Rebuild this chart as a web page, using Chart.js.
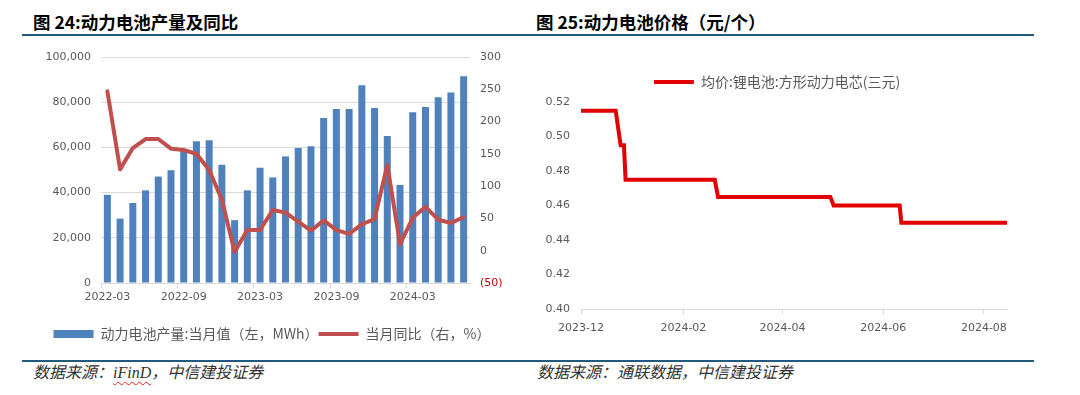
<!DOCTYPE html>
<html>
<head>
<meta charset="utf-8">
<script src="https://cdn.jsdelivr.net/npm/chart.js@4.4.1/dist/chart.umd.min.js"></script>
<style>
  body { margin: 0; width: 1080px; height: 395px; background: #fff; position: relative; overflow: hidden; }
  .title { position: absolute; top: 12px; font: bold 17.5px "Noto Sans CJK SC", sans-serif; line-height: 20px; color: #000; white-space: nowrap; }
  .rule { position: absolute; left: 22px; width: 1012px; background: #22597f; }
  .source { position: absolute; top: 363px; font: italic 16px "Liberation Serif", "Noto Sans CJK SC", serif; line-height: 20px; color: #333; white-space: nowrap; }
  .typo { text-decoration: underline wavy #e02020; text-decoration-thickness: 1px; text-underline-offset: 3px; }
  canvas { position: absolute; }
</style>
</head>
<body>
<div class="title" style="left:33px">图 24:动力电池产量及同比</div>
<div class="title" style="left:536px">图 25:动力电池价格（元/个）</div>
<div class="rule" style="top:34px;height:2px"></div>
<div class="rule" style="top:360px;height:2px"></div>
<div class="source" style="left:33px">数据来源：<span class="typo">iFinD</span>，中信建投证券</div>
<div class="source" style="left:537px">数据来源：通联数据，中信建投证券</div>

<div style="position:absolute;left:27px;top:40px;width:490px;height:311px"><canvas id="chart-output"></canvas></div>
<div style="position:absolute;left:520px;top:45px;width:514px;height:300px"><canvas id="chart-price"></canvas></div>

<script>
// 动力电池产量（MWh）及同比（%），2022-03 ~ 2024-07
const months = [
    '2022-03', '2022-04', '2022-05', '2022-06', '2022-07', '2022-08', '2022-09', '2022-10', '2022-11', '2022-12',
    '2023-01', '2023-02', '2023-03', '2023-04', '2023-05', '2023-06', '2023-07', '2023-08', '2023-09', '2023-10', '2023-11', '2023-12',
    '2024-01', '2024-02', '2024-03', '2024-04', '2024-05', '2024-06', '2024-07'
];
const production = [
    39000, 28500, 35400, 41000, 47100, 49900, 59000, 62700, 63200, 52300,
    27800, 41000, 51000, 46700, 56000, 59700, 60500, 73000, 77000, 77000, 87500, 77400,
    65000, 43400, 75500, 77900, 82200, 84300, 91500
];
const yoy = [
    247, 126, 159, 173, 173, 158, 156, 150, 125, 79,
    -2, 32, 32, 63, 59, 45, 31, 47, 32, 26, 41, 49,
    133, 10, 51, 68, 48, 43, 52
];

// 方形动力电芯(三元)均价（元/Wh），只记录价格变动前后的日期
const priceDates = ['2023-12-01', '2023-12-22', '2023-12-25', '2023-12-27', '2023-12-28', '2024-02-20', '2024-02-22',
    '2024-04-30', '2024-05-02', '2024-06-11', '2024-06-12', '2024-08-15'];
const prices = [0.515, 0.515, 0.495, 0.495, 0.475, 0.475, 0.465, 0.465, 0.46, 0.46, 0.45, 0.45];
const priceTickLabels = ['2023-12', '2024-02', '2024-04', '2024-06', '2024-08'];

const GRAY_TEXT = '#595959';
const GRID = '#d9d9d9';
const tickFont = { family: '"DejaVu Sans", "Noto Sans CJK SC", sans-serif', size: 11 };
const legendFont = { family: '"Noto Sans CJK SC", sans-serif', size: 14 };

// 空轴：不画任何东西，只用来留出固定的边距
const spacerAxis = (position, size) => ({
    type: 'linear',
    position,
    min: 0,
    max: 1,
    ticks: { display: false },
    grid: { display: false, drawTicks: false },
    border: { display: false },
    afterFit: scale => {
        if (scale.isHorizontal()) scale.height = size; else scale.width = size;
    }
});

// 左图：柱 + 折线，双轴
new Chart(document.getElementById('chart-output'), {
    data: {
        labels: months,
        datasets: [
            {
                type: 'line',
                label: '当月同比（右，%）',
                data: yoy,
                yAxisID: 'y1',
                borderColor: '#c0504d',
                backgroundColor: '#c0504d',
                borderWidth: 4,
                pointRadius: 0,
                borderJoinStyle: 'round',
                borderCapStyle: 'round'
            },
            {
                type: 'bar',
                label: '动力电池产量:当月值（左，MWh）',
                data: production,
                yAxisID: 'y',
                backgroundColor: '#4f81bd',
                barPercentage: 0.55,
                categoryPercentage: 1
            }
        ]
    },
    options: {
        responsive: true,
        maintainAspectRatio: false,
        animation: false,
        layout: { padding: { top: 17, bottom: 0, left: 0, right: 0 } },
        plugins: {
            tooltip: { enabled: false },
            legend: {
                position: 'bottom',
                labels: {
                    font: legendFont,
                    color: GRAY_TEXT,
                    usePointStyle: true,
                    pointStyleWidth: 40,
                    boxHeight: 8,
                    padding: 0,
                    sort: (a, b) => b.datasetIndex - a.datasetIndex,
                    generateLabels: chart => Chart.defaults.plugins.legend.labels.generateLabels(chart).map(item => {
                        const ds = chart.data.datasets[item.datasetIndex];
                        if (ds.type === 'line') {
                            return { ...item, pointStyle: 'line', lineWidth: 4, strokeStyle: ds.borderColor };
                        }
                        return { ...item, pointStyle: 'rect', lineWidth: 0, fillStyle: ds.backgroundColor };
                    })
                }
            }
        },
        scales: {
            x: {
                offset: true,
                grid: {
                    offset: true,
                    drawOnChartArea: false,
                    drawTicks: true,
                    tickLength: 5,
                    tickColor: ctx => (ctx.index % 6 === 0 && ctx.index < months.length) ? GRID : 'rgba(0,0,0,0)'
                },
                border: { display: true, color: GRID },
                ticks: {
                    font: tickFont,
                    color: GRAY_TEXT,
                    autoSkip: false,
                    maxRotation: 0,
                    padding: 3,
                    callback: (v, i) => i % 6 === 0 ? months[i] : ''
                },
                afterFit: scale => { scale.height = 44; }
            },
            y: {
                position: 'left',
                min: 0,
                max: 100000,
                ticks: {
                    stepSize: 20000,
                    font: tickFont,
                    color: GRAY_TEXT,
                    padding: 10,
                    callback: v => v.toLocaleString('en-US')
                },
                grid: { color: GRID, drawTicks: false },
                border: { display: false },
                afterFit: scale => { scale.width = 74; }
            },
            y1: {
                position: 'right',
                min: -50,
                max: 300,
                ticks: {
                    stepSize: 50,
                    font: tickFont,
                    color: ctx => ctx.tick && ctx.tick.value < 0 ? '#c00000' : GRAY_TEXT,
                    padding: 10,
                    callback: v => v < 0 ? '(' + (-v) + ')' : String(v)
                },
                grid: { drawOnChartArea: false, drawTicks: false },
                border: { display: false },
                afterFit: scale => { scale.width = 47; }
            }
        }
    }
});

// 右图：阶梯式价格走势，x 轴按天计
const dayNum = s => Math.round((Date.parse(s + 'T00:00:00Z') - Date.parse(priceDates[0] + 'T00:00:00Z')) / 86400000);
const tickDays = priceTickLabels.map(l => dayNum(l + '-01'));

new Chart(document.getElementById('chart-price'), {
    type: 'line',
    data: {
        datasets: [{
            label: '均价:锂电池:方形动力电芯(三元)',
            data: priceDates.map((d, i) => ({ x: dayNum(d), y: prices[i] })),
            borderColor: '#e30000',
            backgroundColor: '#e30000',
            borderWidth: 4,
            pointRadius: 0,
            borderJoinStyle: 'miter'
        }]
    },
    options: {
        responsive: true,
        maintainAspectRatio: false,
        animation: false,
        layout: { padding: { top: 17, right: 0, left: 0, bottom: 0 } },
        plugins: {
            tooltip: { enabled: false },
            legend: {
                position: 'top',
                labels: {
                    font: legendFont,
                    color: GRAY_TEXT,
                    usePointStyle: true,
                    pointStyle: 'line',
                    pointStyleWidth: 40,
                    boxHeight: 12,
                    padding: 13,
                    generateLabels: chart => Chart.defaults.plugins.legend.labels.generateLabels(chart)
                        .map(item => ({ ...item, pointStyle: 'line', lineWidth: 4, strokeStyle: '#e30000' }))
                }
            }
        },
        scales: {
            x: {
                type: 'linear',
                min: 0,
                max: dayNum(priceDates[priceDates.length - 1]),
                afterBuildTicks: scale => { scale.ticks = tickDays.map(v => ({ value: v })); },
                ticks: {
                    font: tickFont,
                    color: GRAY_TEXT,
                    autoSkip: false,
                    maxRotation: 0,
                    padding: 8,
                    callback: (v, i) => priceTickLabels[i]
                },
                grid: { drawOnChartArea: false, drawTicks: true, tickLength: 5, tickColor: GRID },
                border: { display: true, color: GRID },
                afterFit: scale => { scale.height = 36; }
            },
            y: {
                min: 0.40,
                max: 0.52,
                ticks: {
                    stepSize: 0.02,
                    font: tickFont,
                    color: GRAY_TEXT,
                    padding: 11,
                    callback: v => v.toFixed(2)
                },
                grid: { display: false, drawTicks: false },
                border: { display: false },
                afterFit: scale => { scale.width = 61; }
            },
            // 右侧与上方留白，让图例居中于整个画布、绘图区下移
            yPad: spacerAxis('right', 27),
            xPad: spacerAxis('top', 3)
        }
    }
});
</script>
</body>
</html>
